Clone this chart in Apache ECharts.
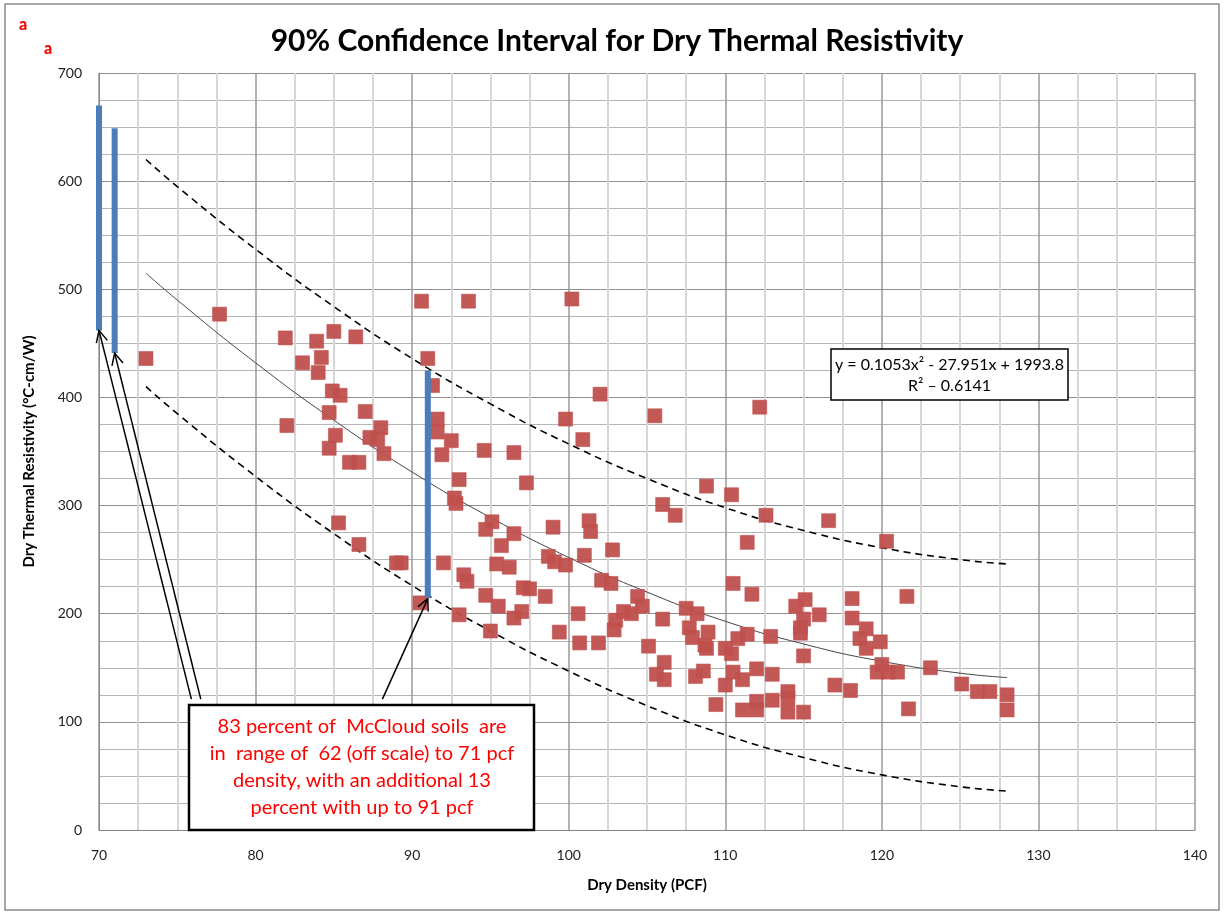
<!DOCTYPE html>
<html>
<head>
<meta charset="utf-8">
<script src="https://cdn.jsdelivr.net/npm/echarts@6/dist/echarts.min.js"></script>
<style>html,body{margin:0;padding:0;background:#fff}#c{width:1224px;height:915px}</style>
</head>
<body>
<div id="c"></div>
<script>
// ---- data ----
const densities = [73.0,77.7,81.9,82.0,83.0,83.9,84.0,84.2,85.0,86.4,84.9,85.4,84.7,87.0,85.1,84.7,88.0,87.3,87.8,88.2,86.0,86.6,85.3,86.6,89.0,89.3,
 90.6,93.6,100.2,91.0,91.3,91.6,91.6,92.5,91.9,94.6,96.5,102.0,99.8,105.5,100.9,93.0,97.3,92.7,92.8,95.1,94.7,96.5,95.7,99.0,101.3,101.4,101.0,102.8,
 106.0,106.8,108.8,98.7,99.1,99.8,92.0,95.4,96.2,93.3,93.5,94.7,90.5,93.0,95.0,95.5,97.1,97.5,96.5,97.0,98.5,100.6,99.4,100.7,101.9,102.1,102.7,
 103.0,102.9,103.5,104.0,104.4,104.7,106.0,105.1,106.1,105.6,106.1,107.5,108.2,107.7,107.9,108.7,108.1,108.6,110.5,111.7,108.9,108.8,110.0,110.8,
 111.4,110.4,110.5,111.1,110.0,112.0,113.0,112.9,109.4,111.1,112.0,112.0,113.0,114.0,114.0,114.0,115.0,115.0,115.1,114.5,115.0,114.8,114.8,116.0,
 117.0,118.1,118.1,118.0,118.6,119.0,119.0,119.9,120.0,119.7,120.4,121.0,121.6,121.7,123.1,125.1,126.1,126.9,128.0,128.0,112.2,110.4,112.6,116.6,111.4,120.3];
const resistivities = [436,477,455,374,432,452,423,437,461,456,406,402,386,387,365,353,372,363,361,348,340,340,284,264,247,247,
 489,489,491,436,411,380,368,360,347,351,349,403,380,383,361,324,321,307,302,285,278,274,263,280,286,276,254,259,
 301,291,318,253,248,245,247,246,243,236,230,217,210,199,184,207,224,223,196,202,216,200,183,173,173,231,228,
 194,185,202,200,216,207,195,170,155,144,139,205,200,187,178,171,142,147,228,218,183,168,168,177,
 181,163,146,139,134,149,144,179,116,111,119,111,120,128,122,109,109,161,213,207,195,187,182,199,
 134,214,196,129,177,186,168,174,153,146,146,146,216,112,150,135,128,128,125,111,391,310,291,286,266,267];

const curveX     = [73, 75, 80, 85, 90, 95, 100, 105, 110, 115, 120, 125, 128];
const trendY     = [515,490,432,379,331,289,252,220,193,172,156,145,141];
const upperY     = [620,595,537,484,436,394,357,325,298,277,261,250,246];
const lowerY     = [410,385,327,274,226,184,147,115, 88, 67, 51, 40, 36];

const rangeX    = [70, 71, 91];
const rangeLow  = [462, 441, 215];
const rangeHigh = [670, 649, 425];

const arrowFromX = [75.9, 76.5, 88.1];
const arrowFromY = [121, 121, 121];
const arrowToX   = [70, 71, 91];
const arrowToY   = [462, 441, 214];

const xTicks = [70, 80, 90, 100, 110, 120, 130, 140];
const yTicks = [0, 100, 200, 300, 400, 500, 600, 700];

const titleText = '90% Confidence Interval for Dry Thermal Resistivity';
const xName = 'Dry Density (PCF)';
const yName = 'Dry Thermal Resistivity (°C-cm/W)';
const eqLine1 = 'y = 0.1053x² - 27.951x + 1993.8';
const eqLine2 = 'R² – 0.6141';
const noteLines = ['83 percent of  McCloud soils  are', 'in  range of  62 (off scale) to 71 pcf', 'density, with an additional 13', 'percent with up to 91 pcf'];

// ---- build ----
const zip = (a, b) => a.map((v, i) => [v, b[i]]);
const FONT = 'Lato, "Open Sans", sans-serif';

const chart = echarts.init(document.getElementById('c'), null, {renderer: 'canvas'});
const noteText = (i) => ({type: 'text', x: 362, y: 727 + i * 27, z: 11,
  style: {text: noteLines[i], font: '20px ' + FONT, fill: '#ff0000', align: 'center', verticalAlign: 'middle'}});
const option = {
  backgroundColor: '#fff',
  animation: false,
  grid: {left: 99, right: 29, top: 73, bottom: 85, containLabel: false},
  xAxis: {
    type: 'value', min: xTicks[0], max: xTicks[xTicks.length - 1], interval: 10,
    name: xName, nameLocation: 'middle', nameGap: 48,
    nameTextStyle: {fontFamily: FONT, fontWeight: 'bold', fontSize: 15, color: '#000'},
    axisLine: {show: true, lineStyle: {color: '#868686', width: 1}},
    axisTick: {show: false},
    axisLabel: {fontFamily: FONT, fontSize: 14, color: '#222', margin: 18},
    splitLine: {show: true, lineStyle: {color: '#9a9a9a', width: 1.5}},
    minorTick: {show: false, splitNumber: 4},
    minorSplitLine: {show: true, lineStyle: {color: '#d6d6d6', width: 2}}
  },
  yAxis: {
    type: 'value', min: yTicks[0], max: yTicks[yTicks.length - 1], interval: 100,
    name: yName, nameLocation: 'middle', nameGap: 62, nameRotate: 90,
    nameTextStyle: {fontFamily: FONT, fontWeight: 'bold', fontSize: 15, color: '#000'},
    axisLine: {show: true, lineStyle: {color: '#868686', width: 1}},
    axisTick: {show: false},
    axisLabel: {fontFamily: FONT, fontSize: 14, color: '#222', margin: 17},
    splitLine: {show: true, lineStyle: {color: '#8f8f8f', width: 1.2}},
    minorTick: {show: false, splitNumber: 4},
    minorSplitLine: {show: true, lineStyle: {color: '#b4b4b4', width: 1.2}}
  },
  series: [
    {
      type: 'line', data: zip(curveX, upperY), smooth: true, symbol: 'none',
      lineStyle: {color: '#000', width: 1.6, type: [7, 5]}, z: 3
    },
    {
      type: 'line', data: zip(curveX, lowerY), smooth: true, symbol: 'none',
      lineStyle: {color: '#000', width: 1.6, type: [7, 5]}, z: 3
    },
    {
      type: 'line', data: zip(curveX, trendY), smooth: true, symbol: 'none',
      lineStyle: {color: '#444', width: 1}, z: 3
    },
    {
      type: 'scatter', data: zip(densities, resistivities), symbol: 'rect', symbolSize: 14,
      itemStyle: {color: '#c0504d', opacity: 0.95, borderColor: 'rgba(192,80,77,0.6)', borderWidth: 1}, z: 4
    },
    {
      type: 'custom', z: 5,
      data: rangeX.map((x, i) => [x, rangeLow[i], rangeHigh[i]]),
      renderItem: function (params, api) {
        const p1 = api.coord([api.value(0), api.value(1)]);
        const p2 = api.coord([api.value(0), api.value(2)]);
        return {type: 'rect', shape: {x: p1[0] - 3, y: p2[1], width: 6, height: p1[1] - p2[1]},
          style: {fill: '#4a7ebb'}};
      }
    },
    {
      type: 'custom', z: 6,
      data: arrowFromX.map((x, i) => [x, arrowFromY[i], arrowToX[i], arrowToY[i]]),
      renderItem: function (params, api) {
        const a = api.coord([api.value(0), api.value(1)]);
        const b = api.coord([api.value(2), api.value(3)]);
        const ang = Math.atan2(b[1] - a[1], b[0] - a[0]);
        const L = 13, w = 0.45;
        const h1 = [b[0] - L * Math.cos(ang - w), b[1] - L * Math.sin(ang - w)];
        const h2 = [b[0] - L * Math.cos(ang + w), b[1] - L * Math.sin(ang + w)];
        return {type: 'group', children: [
          {type: 'line', shape: {x1: a[0], y1: a[1], x2: b[0], y2: b[1]}, style: {stroke: '#000', lineWidth: 1.5}},
          {type: 'polyline', shape: {points: [h1, b, h2]}, style: {stroke: '#000', lineWidth: 1.5, fill: null}}
        ]};
      }
    }
  ],
  graphic: [
    {type: 'rect', shape: {x: 5, y: 4, width: 1214, height: 906}, style: {fill: null, stroke: '#8c8c8c', lineWidth: 1.5}, z: 0, silent: true},
    {type: 'text', x: 617, y: 41, style: {text: titleText, font: 'bold 30px ' + FONT, fill: '#000', align: 'center', verticalAlign: 'middle'}},
    {type: 'text', x: 23, y: 25, style: {text: 'a', font: '900 16px ' + FONT, fill: '#ff0000', align: 'center', verticalAlign: 'middle'}},
    {type: 'text', x: 48, y: 49, style: {text: 'a', font: '900 16px ' + FONT, fill: '#ff0000', align: 'center', verticalAlign: 'middle'}},
    {type: 'rect', shape: {x: 831, y: 349, width: 237, height: 51}, style: {fill: '#fff', stroke: '#000', lineWidth: 1.5}, z: 10},
    {type: 'text', x: 949.5, y: 365, z: 11, style: {text: eqLine1, font: '16px ' + FONT, fill: '#000', align: 'center', verticalAlign: 'middle'}},
    {type: 'text', x: 949.5, y: 386, z: 11, style: {text: eqLine2, font: '16px ' + FONT, fill: '#000', align: 'center', verticalAlign: 'middle'}},
    {type: 'rect', shape: {x: 189, y: 705, width: 345, height: 125}, style: {fill: '#fff', stroke: '#000', lineWidth: 2.5}, z: 10},
    noteText(0), noteText(1), noteText(2), noteText(3)
  ]
};
chart.setOption(option);
</script>
</body>
</html>
